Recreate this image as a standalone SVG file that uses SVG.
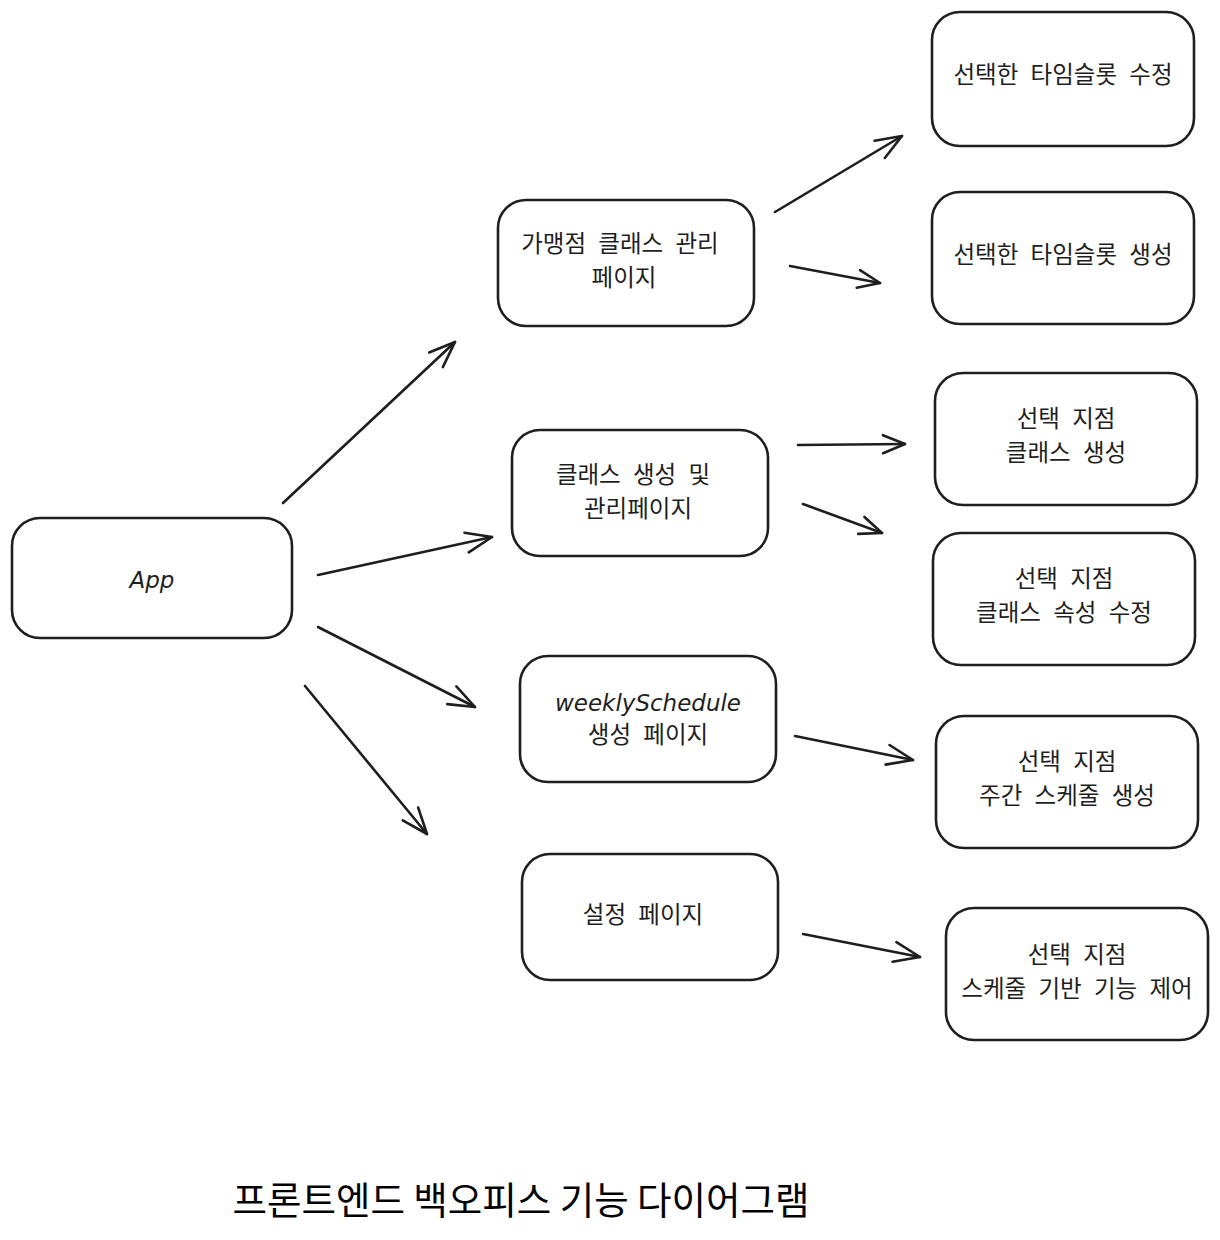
<svg xmlns="http://www.w3.org/2000/svg" width="1220" height="1240" viewBox="0 0 1220 1240">
<style>
.box{fill:#ffffff;stroke:#1e1e1e;stroke-width:2.6}
.t{font-family:"Noto Sans CJK KR","Noto Sans",sans-serif;font-size:23.5px;fill:#1e1e1e;text-anchor:middle;word-spacing:7px}
.h{font-family:"DejaVu Sans","Liberation Sans",sans-serif;font-style:italic;font-size:23px;fill:#1e1e1e;text-anchor:middle}
.c{fill:none;stroke:#1e1e1e;stroke-width:2.6;stroke-linecap:round}
.title{font-family:"Noto Sans CJK KR","Noto Sans",sans-serif;font-size:37.5px;fill:#000000;text-anchor:middle}
</style>
<defs>
<marker id="ah" markerUnits="userSpaceOnUse" markerWidth="60" markerHeight="60" viewBox="-40 -30 60 60" refX="0" refY="0" orient="auto" overflow="visible">
<path d="M-26,-10 L0,0 L-26,10" fill="none" stroke="#1e1e1e" stroke-width="2.6" stroke-linecap="round" stroke-linejoin="round"/>
</marker>
<marker id="ahs" markerUnits="userSpaceOnUse" markerWidth="60" markerHeight="60" viewBox="-40 -30 60 60" refX="0" refY="0" orient="auto" overflow="visible">
<path d="M-22,-9 L0,0 L-22,9" fill="none" stroke="#1e1e1e" stroke-width="2.6" stroke-linecap="round" stroke-linejoin="round"/>
</marker>
</defs>
<rect width="1220" height="1240" fill="#ffffff"/>
<g id="connectors">
<line class="c" x1="283" y1="503" x2="455" y2="342" marker-end="url(#ah)"/>
<line class="c" x1="318" y1="575" x2="492" y2="537" marker-end="url(#ah)"/>
<line class="c" x1="318" y1="627" x2="475" y2="707" marker-end="url(#ah)"/>
<line class="c" x1="305" y1="686" x2="427" y2="834" marker-end="url(#ah)"/>
<line class="c" x1="775" y1="212" x2="902" y2="136" marker-end="url(#ah)"/>
<line class="c" x1="790" y1="266" x2="880" y2="283" marker-end="url(#ahs)"/>
<line class="c" x1="798" y1="445" x2="905" y2="444" marker-end="url(#ahs)"/>
<line class="c" x1="803" y1="504" x2="882" y2="533" marker-end="url(#ahs)"/>
<line class="c" x1="795" y1="736" x2="913" y2="760" marker-end="url(#ah)"/>
<line class="c" x1="803" y1="934" x2="920" y2="957" marker-end="url(#ah)"/>
</g>
<g id="app">
<rect class="box" x="12" y="518" width="280" height="120" rx="28"/>
<text class="h" x="152" y="588">App</text>
</g>
<g id="franchise-class-page">
<rect class="box" x="498" y="200" width="256" height="126" rx="28"/>
<text class="t" x="620" y="252">가맹점 클래스 관리</text>
<text class="t" x="624" y="286">페이지</text>
</g>
<g id="class-create-page">
<rect class="box" x="512" y="430" width="256" height="126" rx="28"/>
<text class="t" x="633" y="483">클래스 생성 및</text>
<text class="t" x="638" y="517">관리페이지</text>
</g>
<g id="weekly-page">
<rect class="box" x="520" y="656" width="256" height="126" rx="28"/>
<text class="h" x="648" y="711" textLength="186" lengthAdjust="spacingAndGlyphs">weeklySchedule</text>
<text class="t" x="648" y="743">생성 페이지</text>
</g>
<g id="settings-page">
<rect class="box" x="522" y="854" width="256" height="126" rx="28"/>
<text class="t" x="643" y="923">설정 페이지</text>
</g>
<g id="timeslot-edit">
<rect class="box" x="932" y="12" width="262" height="134" rx="28"/>
<text class="t" x="1063" y="83">선택한 타임슬롯 수정</text>
</g>
<g id="timeslot-create">
<rect class="box" x="932" y="192" width="262" height="132" rx="28"/>
<text class="t" x="1063" y="263">선택한 타임슬롯 생성</text>
</g>
<g id="branch-class-create">
<rect class="box" x="935" y="373" width="262" height="132" rx="28"/>
<text class="t" x="1066" y="427">선택 지점</text>
<text class="t" x="1066" y="461">클래스 생성</text>
</g>
<g id="branch-class-edit">
<rect class="box" x="933" y="533" width="262" height="132" rx="28"/>
<text class="t" x="1064" y="587">선택 지점</text>
<text class="t" x="1064" y="621">클래스 속성 수정</text>
</g>
<g id="branch-weekly-create">
<rect class="box" x="936" y="716" width="262" height="132" rx="28"/>
<text class="t" x="1067" y="770">선택 지점</text>
<text class="t" x="1067" y="804">주간 스케줄 생성</text>
</g>
<g id="branch-schedule-control">
<rect class="box" x="946" y="908" width="262" height="132" rx="28"/>
<text class="t" x="1077" y="963">선택 지점</text>
<text class="t" x="1077" y="997">스케줄 기반 기능 제어</text>
</g>
<text class="title" x="521" y="1214">프론트엔드 백오피스 기능 다이어그램</text>
</svg>
